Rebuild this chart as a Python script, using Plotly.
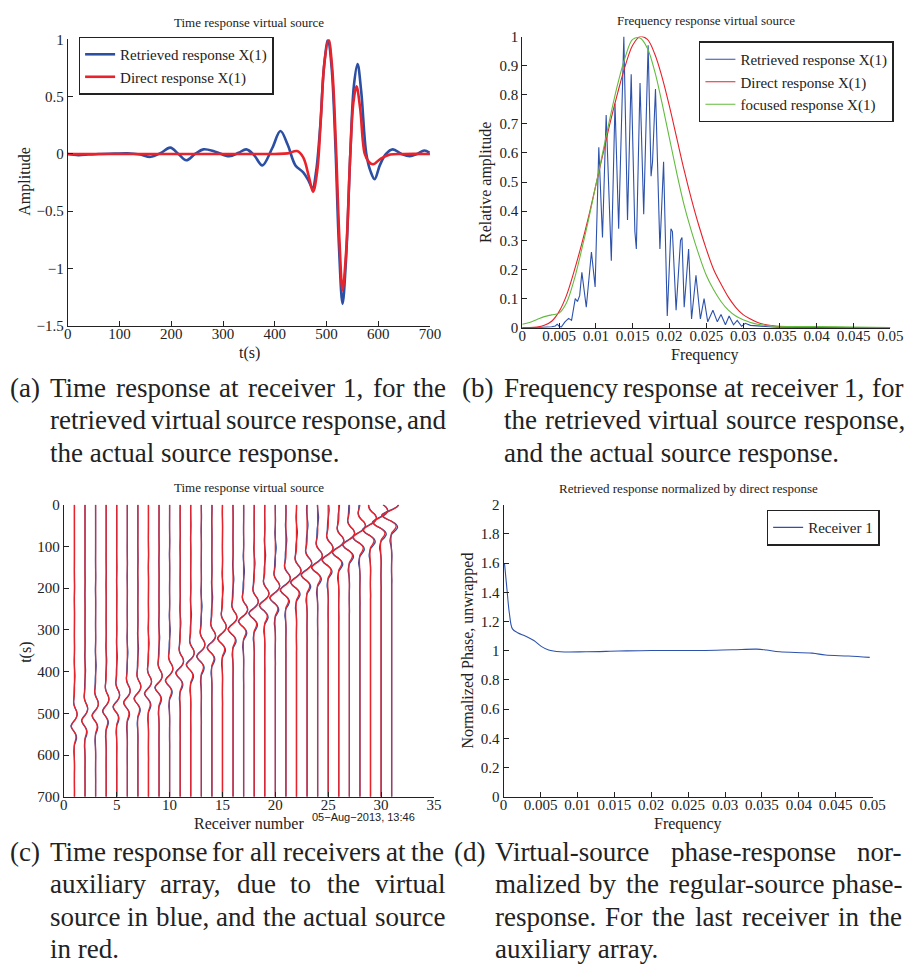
import numpy as np
import plotly.graph_objects as go

W, H = 920, 975
SERIF = "Liberation Serif, Times New Roman, Times, serif"
INK = "#222222"

# ---------------- Panel (a): time response at receiver 1 ----------------
a_ret_t = [0, 20, 40, 60, 90, 115, 140, 160, 180, 198, 214, 229, 246, 262, 285, 312, 330, 345,
           360, 376, 395, 411, 425, 440, 455, 465, 473, 480, 488, 495, 503, 510, 517, 524, 531,
           538, 546, 553, 560, 567, 577, 585, 593, 603, 615, 628, 645, 661, 675, 689, 699]
a_ret_y = [0.0, -0.01, -0.005, 0.0, 0.003, 0.006, -0.005, -0.025, 0.01, 0.055, 0.0, -0.055, 0.0,
           0.04, 0.02, -0.02, 0.01, 0.04, -0.01, -0.10, 0.05, 0.20, 0.08, -0.10, -0.16, -0.23,
           -0.30, -0.15, 0.25, 0.75, 1.0, 0.75, 0.1, -0.8, -1.31, -0.9, 0.0, 0.6, 0.785, 0.55,
           0.0, -0.15, -0.22, -0.1, 0.0, 0.04, 0.0, -0.02, 0.0, 0.03, 0.01]
a_dir_t = [0, 100, 200, 300, 400, 425, 443, 455, 466, 474, 482, 489, 496, 504, 511, 518, 525,
           531, 538, 546, 552, 558, 565, 574, 582, 590, 605, 623, 650, 700]
a_dir_y = [0, 0, 0, 0, 0, 0.005, 0.025, -0.03, -0.2, -0.33, -0.15, 0.3, 0.8, 1.0, 0.75, 0.1,
           -0.75, -1.19, -0.85, 0.0, 0.45, 0.59, 0.4, 0.0, -0.07, -0.09, -0.04, -0.005, 0, 0]

# ---------------- Panel (b): frequency response ----------------
b_ret_f = [0, 0.002, 0.004, 0.0045, 0.00475, 0.005, 0.0053, 0.0058, 0.0063, 0.0067, 0.0072,
           0.0075, 0.0078, 0.0081, 0.0087, 0.0094, 0.0099, 0.0104, 0.0109, 0.0114, 0.0121,
           0.0126, 0.0131, 0.0138, 0.0143, 0.0148, 0.0153, 0.0155, 0.0160, 0.0165, 0.0171,
           0.0175, 0.0177, 0.0181, 0.0187, 0.0192, 0.0197, 0.0202, 0.0204, 0.0209, 0.0215,
           0.0217, 0.0220, 0.0226, 0.0230, 0.0236, 0.0242, 0.0247, 0.0252, 0.0259, 0.0265,
           0.0270, 0.0276, 0.0281, 0.0287, 0.0292, 0.0298, 0.0303, 0.031, 0.033, 0.035, 0.04, 0.05]
b_ret_y = [0, 0.0, 0.003, 0.006, 0.012, 0.005, 0.002, 0.02, 0.032, 0.025, 0.10, 0.09, 0.11,
           0.19, 0.07, 0.26, 0.14, 0.62, 0.31, 0.73, 0.23, 0.77, 0.34, 1.0, 0.37, 0.87, 0.33,
           0.27, 0.84, 0.39, 0.97, 0.52, 0.57, 0.82, 0.27, 0.57, 0.04, 0.34, 0.33, 0.06, 0.30,
           0.31, 0.07, 0.27, 0.03, 0.18, 0.03, 0.10, 0.02, 0.06, 0.02, 0.045, 0.01, 0.04, 0.01,
           0.025, 0.005, 0.015, 0.008, 0.004, 0.0, 0.0, 0.0]
b_curve_f = [0, 0.001, 0.002, 0.003, 0.004, 0.005, 0.006, 0.007, 0.008, 0.009, 0.010, 0.011,
             0.012, 0.013, 0.014, 0.015, 0.016, 0.017, 0.018, 0.019, 0.020, 0.021, 0.022, 0.023,
             0.024, 0.025, 0.026, 0.027, 0.028, 0.029, 0.030, 0.031, 0.032, 0.033, 0.034, 0.035,
             0.037, 0.040, 0.045, 0.050]
b_dir_y = [0, 0.0, 0.002, 0.008, 0.022, 0.055, 0.11, 0.19, 0.28, 0.38, 0.49, 0.60, 0.71, 0.81,
           0.90, 0.97, 1.0, 0.99, 0.94, 0.86, 0.76, 0.65, 0.54, 0.44, 0.35, 0.27, 0.20, 0.15,
           0.105, 0.07, 0.045, 0.03, 0.018, 0.011, 0.007, 0.004, 0.002, 0.001, 0.0, 0.0]
b_foc_y = [0.012, 0.018, 0.028, 0.038, 0.044, 0.05, 0.085, 0.16, 0.26, 0.37, 0.49, 0.61, 0.73,
           0.84, 0.93, 0.99, 0.995, 0.96, 0.88, 0.77, 0.65, 0.53, 0.42, 0.33, 0.25, 0.18, 0.13,
           0.09, 0.06, 0.04, 0.027, 0.018, 0.012, 0.008, 0.006, 0.005, 0.004, 0.004, 0.002, 0.0]

# ---------------- Panel (c): all receivers ----------------
receivers = list(range(1, 32))
arrival_t = [530, 517, 505, 494, 484, 474, 464, 452, 438, 421, 403, 383, 363, 342, 320, 298,
             279, 260, 241, 223, 204, 186, 168, 150, 132, 114, 96, 78, 60, 42, 25]
trace_scale = [0.25, 0.25, 0.26, 0.26, 0.27, 0.27, 0.28, 0.29, 0.30, 0.31, 0.32, 0.33, 0.34,
               0.35, 0.36, 0.37, 0.38, 0.39, 0.40, 0.41, 0.42, 0.43, 0.44, 0.45, 0.46, 0.48,
               0.50, 0.53, 0.57, 0.63, 0.72]
ref_trough_t = 531

# ---------------- Panel (d): normalized phase ----------------
d_f = [0.00013, 0.00044, 0.0008, 0.0012, 0.0019, 0.003, 0.0041, 0.0051, 0.0061, 0.0077, 0.0112,
       0.0156, 0.020, 0.0267, 0.031, 0.0343, 0.0356, 0.0374, 0.0418, 0.0436, 0.0467, 0.0496]
d_phase = [1.595, 1.43, 1.25, 1.15, 1.124, 1.10, 1.07, 1.03, 1.005, 0.993, 0.993, 0.998, 1.002,
           1.002, 1.007, 1.011, 1.005, 0.993, 0.984, 0.971, 0.964, 0.955]

# ---------------- Captions ----------------
cap_a = ["Time response at receiver 1, for the", "retrieved virtual source response, and",
         "the actual source response."]
cap_b = ["Frequency response at receiver 1, for", "the retrieved virtual source response,",
         "and the actual source response."]
cap_c = ["Time response for all receivers at the", "auxiliary array, due to the virtual",
         "source in blue, and the actual source", "in red."]
cap_d = ["Virtual-source phase-response nor-", "malized by the regular-source phase-",
         "response. For the last receiver in the", "auxiliary array."]

BLUE_A = "#2C4FA3"
RED_A = "#E8232B"
BLUE_B = "#2D52AC"
RED_B = "#E8202A"
GREEN_B = "#62BB3E"


def px(x):
    return x / W


def py(y):
    return 1 - y / H


def build_section(wt, wy):
    wt = np.asarray(wt, float)
    wy = np.asarray(wy, float)
    xs, ys = [], []
    for r, at, sc in zip(receivers, arrival_t, trace_scale):
        tt = wt + (at - ref_trough_t)
        m = (tt > 0) & (tt < 700)
        v0 = float(np.interp(0, tt, wy))
        v1 = float(np.interp(700, tt, wy))
        t_seg = [0.0] + list(tt[m]) + [700.0]
        y_seg = [v0] + list(wy[m]) + [v1]
        xs += [r + sc * v for v in y_seg] + [None]
        ys += t_seg + [None]
    return xs, ys


fig = go.Figure()

# (a)
fig.add_trace(go.Scatter(x=a_ret_t, y=a_ret_y, mode="lines", name="Retrieved response X(1)",
                         line=dict(color=BLUE_A, width=2.6, shape="spline", smoothing=1.0),
                         xaxis="x", yaxis="y", legend="legend"))
fig.add_trace(go.Scatter(x=a_dir_t, y=a_dir_y, mode="lines", name="Direct response X(1)",
                         line=dict(color=RED_A, width=2.6, shape="spline", smoothing=1.0),
                         xaxis="x", yaxis="y", legend="legend"))

# (b)
fig.add_trace(go.Scatter(x=b_ret_f, y=b_ret_y, mode="lines", name="Retrieved response X(1)",
                         line=dict(color=BLUE_B, width=1.1),
                         xaxis="x2", yaxis="y2", legend="legend2"))
fig.add_trace(go.Scatter(x=b_curve_f, y=b_dir_y, mode="lines", name="Direct response X(1)",
                         line=dict(color=RED_B, width=1.1, shape="spline"),
                         xaxis="x2", yaxis="y2", legend="legend2"))
fig.add_trace(go.Scatter(x=b_curve_f, y=b_foc_y, mode="lines", name="focused response X(1)",
                         line=dict(color=GREEN_B, width=1.1, shape="spline"),
                         xaxis="x2", yaxis="y2", legend="legend2"))

# (c)
cbx, cby = build_section(a_ret_t, a_ret_y)
crx, cry = build_section(a_dir_t, a_dir_y)
fig.add_trace(go.Scatter(x=cbx, y=cby, mode="lines", showlegend=False,
                         line=dict(color=BLUE_A, width=1.3, shape="spline"),
                         xaxis="x3", yaxis="y3"))
fig.add_trace(go.Scatter(x=crx, y=cry, mode="lines", showlegend=False,
                         line=dict(color=RED_A, width=1.3, shape="spline"),
                         xaxis="x3", yaxis="y3"))

# (d)
fig.add_trace(go.Scatter(x=d_f, y=d_phase, mode="lines", name="Receiver 1",
                         line=dict(color=BLUE_B, width=1.1, shape="spline"),
                         xaxis="x4", yaxis="y4", legend="legend3"))

tickfont = dict(family=SERIF, size=15, color=INK)


def ax(domain, rng, dtick, is_x, **kw):
    d = dict(domain=domain, range=rng, dtick=dtick, tick0=0, showline=True, linecolor=INK,
             linewidth=1, ticks="inside", ticklen=5, tickcolor=INK, showgrid=False,
             zeroline=False, mirror=False, tickfont=tickfont, fixedrange=True,
             ticklabelstandoff=-6 if is_x else 0)
    d.update(kw)
    return d


legend_common = dict(xanchor="left", yanchor="top", bordercolor=INK, borderwidth=1.5,
                     bgcolor="white", font=dict(family=SERIF, size=15, color=INK),
                     tracegroupgap=0, itemwidth=30)

fig.update_layout(
    width=W, height=H, margin=dict(l=0, r=0, t=0, b=0),
    paper_bgcolor="white", plot_bgcolor="white",
    font=dict(family=SERIF, color=INK),
    xaxis=ax([px(65), px(434)], [0, 700], 100, True, anchor="y"),
    yaxis=ax([py(323), py(32)], [-1.5, 1], 0.5, False, anchor="x"),
    xaxis2=ax([px(528), px(903)], [0, 0.05], 0.005, True, anchor="y2"),
    yaxis2=ax([py(325), py(29)], [0, 1], 0.1, False, anchor="x2"),
    xaxis3=ax([px(61), px(438)], [0, 35], 5, True, anchor="y3"),
    yaxis3=ax([py(802), py(505)], [700, 0], 100, False, anchor="x3"),
    xaxis4=ax([px(509), px(885)], [0, 0.05], 0.005, True, anchor="y4"),
    yaxis4=ax([py(802), py(505)], [0, 2], 0.2, False, anchor="x4"),
    legend=dict(x=px(76), y=py(29), **legend_common),
    legend2=dict(x=px(708), y=py(34), **legend_common),
    legend3=dict(x=px(777), y=py(510), **legend_common),
)

ann = []


def text(x, y, s, size, xanchor="center", angle=0, family=SERIF, color=INK):
    ann.append(dict(x=px(x), y=py(y), xref="paper", yref="paper", text=s, showarrow=False,
                    xanchor=xanchor, yanchor="middle", textangle=angle,
                    font=dict(family=family, size=size, color=color)))


# titles
text(250, 15, "Time response virtual source", 13)
text(715, 13, "Frequency response virtual source", 13)
text(250, 488, "Time response virtual source", 13)
text(697, 489, "Retrieved response normalized by direct response", 13)
# axis titles
text(250, 351, "t(s)", 16)
text(21, 177, "Amplitude", 16, angle=-90)
text(714, 353, "Frequency", 16)
text(491, 177, "Relative amplitude", 16, angle=-90)
text(250, 829, "Receiver number", 16)
text(23, 655, "t(s)", 16, angle=-90)
text(697, 830, "Frequency", 16)
text(473, 653, "Normalized Phase, unwrapped", 16, angle=-90)
# timestamp
text(312, 822, "05\u2212Aug\u22122013, 13:46", 11, xanchor="left",
     family="Liberation Sans, Arial, sans-serif")

# ---- justified captions (Times-metric word widths) ----
TW = {" ": 250, "(": 333, ")": 333, ",": 250, "-": 333, ".": 250, ":": 278,
      "F": 556, "T": 611, "V": 722, "R": 667, "X": 722,
      "a": 444, "b": 500, "c": 444, "d": 500, "e": 444, "f": 333, "g": 500, "h": 500,
      "i": 278, "j": 278, "k": 500, "l": 278, "m": 778, "n": 500, "o": 500, "p": 500,
      "q": 500, "r": 333, "s": 389, "t": 278, "u": 500, "v": 500, "w": 722, "x": 500,
      "y": 500, "z": 444}
CAP = 27


def word_w(w, size):
    return sum(TW.get(ch, 500) for ch in w) * size / 1000.0


def caption(label, label_x, body_x, body_r, ys, lines):
    text(label_x, ys[0], label, CAP, xanchor="left")
    n = len(lines)
    for k, line in enumerate(lines):
        words = line.split()
        if k == n - 1 or len(words) == 1:
            text(body_x, ys[k], line, CAP, xanchor="left")
            continue
        widths = [word_w(w, CAP) for w in words]
        gap = (body_r - body_x - sum(widths)) / (len(words) - 1)
        x = body_x
        for w, ww in zip(words, widths):
            text(x, ys[k], w, CAP, xanchor="left")
            x += ww + gap


top_y = [386, 419, 452]
bot_y = [858, 891, 924, 957]
caption("(a)", 4, 45, 448, top_y, cap_a)
caption("(b)", 465, 507, 914, top_y, cap_b)
caption("(c)", 4, 45, 446, bot_y, cap_c)
caption("(d)", 456, 498, 912, bot_y, cap_d)

fig.update_layout(annotations=ann)
fig.write_html("out.html")
